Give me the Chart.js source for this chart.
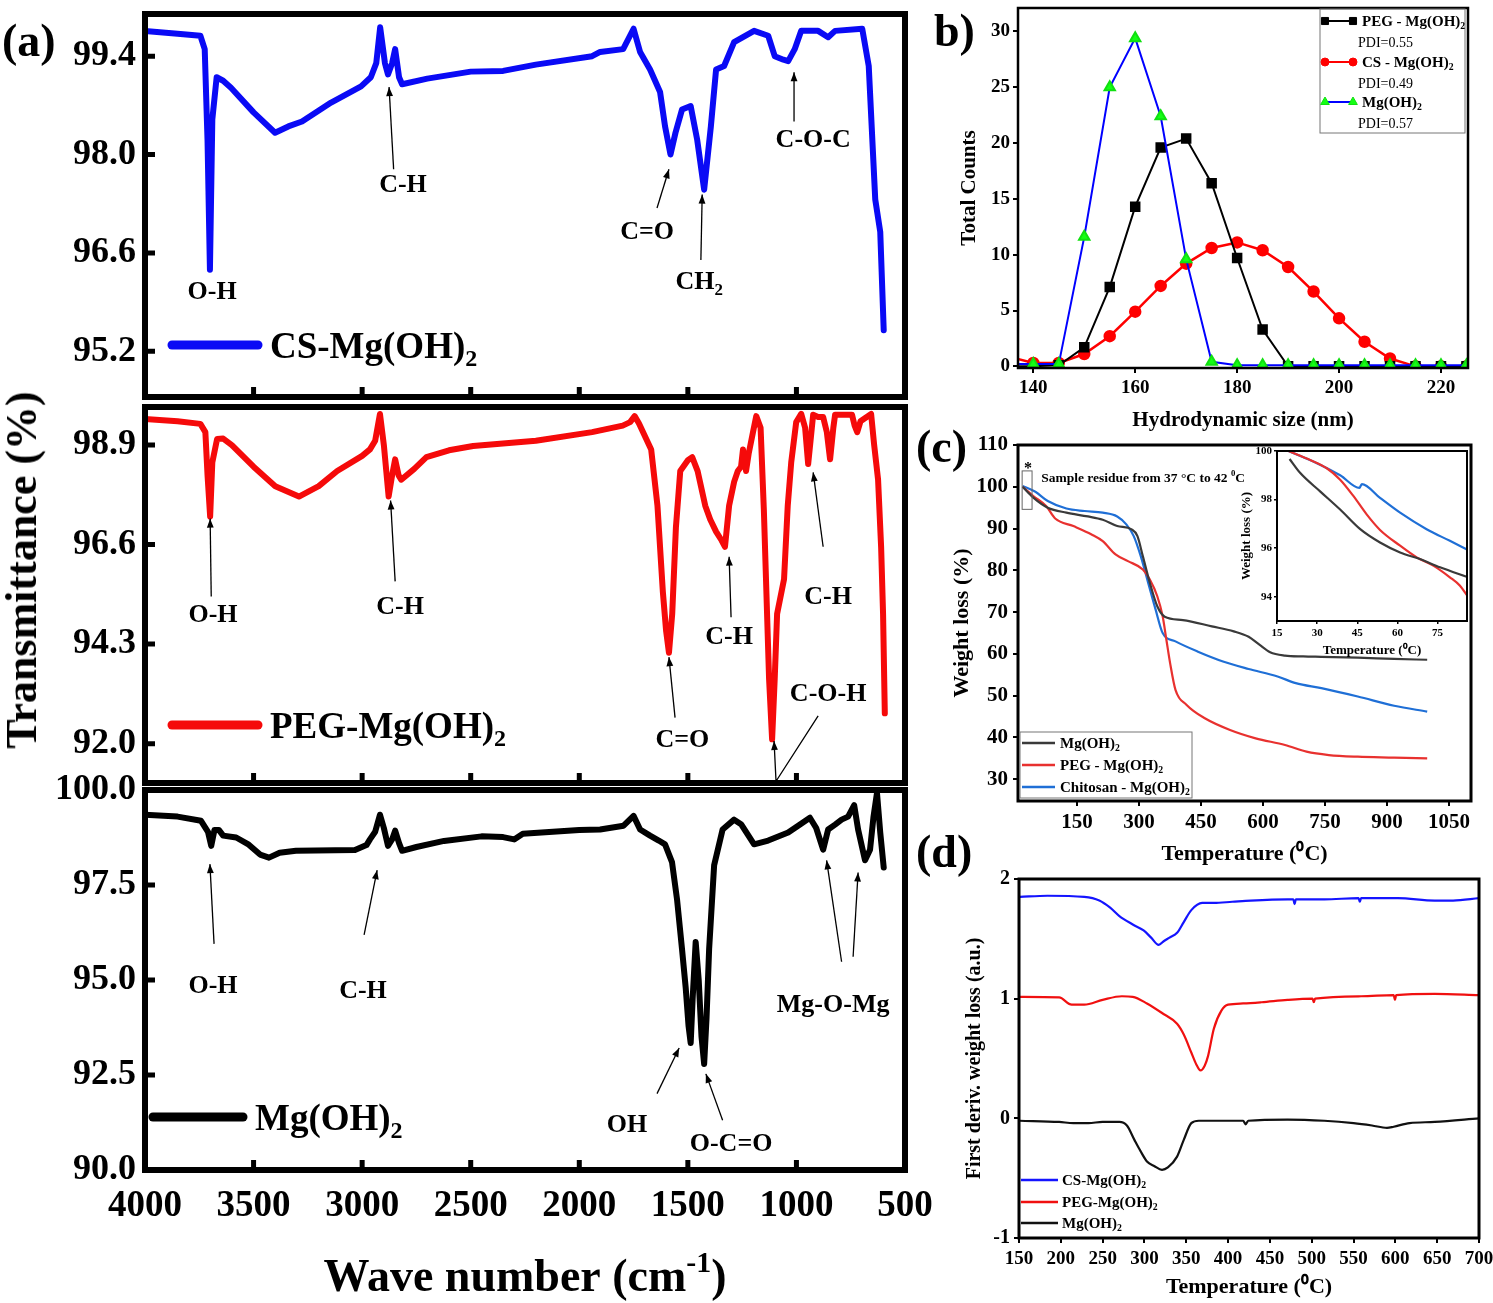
<!DOCTYPE html>
<html>
<head>
<meta charset="utf-8">
<script src="https://cdn.jsdelivr.net/npm/chart.js@4.4.1/dist/chart.umd.min.js"></script>
<style>
body { margin: 0; background: #fff; }
#wrap { position: relative; width: 1493px; height: 1303px; overflow: hidden; background: #fff;
        font-family: "Liberation Serif", "Times New Roman", serif; font-weight: bold; color: #000; }
canvas { position: absolute; }
.lab { position: absolute; line-height: 1; white-space: nowrap; }
</style>
</head>
<body>
<div id="wrap">
  <canvas id="a1" width="950" height="400" style="left:0;top:0"></canvas>
  <canvas id="a2" width="950" height="395" style="left:0;top:395px"></canvas>
  <canvas id="a3" width="950" height="543" style="left:0;top:760px"></canvas>
  <canvas id="b" width="573" height="433" style="left:920px;top:0"></canvas>
  <canvas id="c" width="573" height="440" style="left:920px;top:430px"></canvas>
  <canvas id="cin" width="255" height="225" style="left:1225px;top:440px"></canvas>
  <canvas id="d" width="573" height="433" style="left:920px;top:870px"></canvas>
  <div class="lab" style="left:2px;top:18px;font-size:46px">(a)</div>
  <div class="lab" style="left:934px;top:8px;font-size:46px">b)</div>
  <div class="lab" style="left:916px;top:424px;font-size:46px">(c)</div>
  <div class="lab" style="left:916px;top:829px;font-size:46px">(d)</div>
  <div class="lab" style="left:22px;top:570px;font-size:44px;transform:translate(-50%,-50%) rotate(-90deg)">Transmittance (%)</div>
</div>
<script>
// ---- (a) FTIR ----
const waveTicks = [4000, 3500, 3000, 2500, 2000, 1500, 1000, 500];
const csTicks = [95.2, 96.6, 98.0, 99.4];
const pegTicks = [92.0, 94.3, 96.6, 98.9];
const mgTicks = [90.0, 92.5, 95.0, 97.5, 100.0];

const csWave = [4000, 3850, 3745, 3725, 3712, 3701, 3690, 3670, 3640, 3604,
  3500, 3401, 3340, 3277, 3143, 3005, 2960, 2935, 2917, 2895,
  2881, 2862, 2848, 2830, 2816, 2700, 2500, 2351, 2200, 1941,
  1904, 1798, 1750, 1720, 1674, 1628, 1605, 1580, 1557, 1527,
  1487, 1457, 1425, 1394, 1370, 1333, 1287, 1195, 1130, 1100,
  1060, 1038, 1008, 978, 900, 854, 822, 697, 667, 637, 614, 598];
const csTrans = [99.76, 99.72, 99.69, 99.5, 98.2, 96.36, 98.5, 99.1, 99.05, 98.95,
  98.6, 98.31, 98.4, 98.47, 98.74, 98.97, 99.1, 99.3, 99.81, 99.3,
  99.14, 99.3, 99.5, 99.1, 99.0, 99.08, 99.18, 99.19, 99.28, 99.4,
  99.46, 99.5, 99.79, 99.46, 99.21, 98.89, 98.4, 98.0, 98.31, 98.64,
  98.69, 98.21, 97.5, 98.4, 99.21, 99.26, 99.6, 99.76, 99.69, 99.4,
  99.35, 99.33, 99.5, 99.76, 99.76, 99.67, 99.76, 99.79, 99.26, 97.36, 96.9, 95.5];

const pegWave = [4000, 3850, 3745, 3722, 3712, 3700, 3690, 3668, 3640, 3600,
  3500, 3400, 3291, 3200, 3115, 3000, 2964, 2940, 2918, 2900,
  2878, 2862, 2848, 2832, 2820, 2760, 2704, 2600, 2489, 2200,
  1941, 1800, 1766, 1745, 1725, 1669, 1640, 1615, 1600, 1587,
  1572, 1555, 1535, 1500, 1480, 1455, 1420, 1397, 1370, 1345,
  1329, 1310, 1287, 1270, 1255, 1246, 1232, 1220, 1200, 1185,
  1165, 1150, 1126, 1112, 1100, 1089, 1057, 1040, 1024, 1001,
  978, 960, 946, 935, 923, 900, 877, 860, 845, 830,
  822, 744, 732, 720, 705, 656, 642, 624, 610, 601, 593];
const pegTrans = [99.5, 99.45, 99.39, 99.2, 98.2, 97.25, 98.5, 99.04, 99.05, 98.9,
  98.4, 97.95, 97.71, 97.95, 98.3, 98.65, 98.8, 99.0, 99.62, 98.9,
  97.71, 98.2, 98.57, 98.2, 98.1, 98.35, 98.62, 98.78, 98.88, 99.0,
  99.2, 99.35, 99.43, 99.57, 99.4, 98.8, 97.5, 95.5, 94.6, 94.1,
  95.0, 97.0, 98.3, 98.55, 98.62, 98.3, 97.5, 97.18, 96.9, 96.7,
  96.55, 97.5, 98.05, 98.3, 98.4, 98.8, 98.3, 98.7, 99.2, 99.57,
  99.3, 97.4, 93.5, 92.1, 93.5, 95.0, 95.8, 97.5, 98.5, 99.43,
  99.62, 99.3, 98.46, 99.0, 99.6, 99.55, 99.55, 99.2, 98.57, 99.3,
  99.6, 99.6, 99.35, 99.2, 99.45, 99.62, 98.9, 98.1, 96.55, 95.0, 92.7];

const mgWave = [4000, 3850, 3742, 3710, 3695, 3680, 3660, 3640, 3580, 3522,
  3470, 3429, 3380, 3305, 3033, 2980, 2964, 2940, 2918, 2900,
  2881, 2862, 2848, 2830, 2816, 2750, 2623, 2450, 2351, 2300,
  2260, 2000, 1904, 1796, 1750, 1720, 1674, 1634, 1605, 1573,
  1550, 1527, 1510, 1497, 1487, 1478, 1464, 1450, 1437, 1425,
  1414, 1402, 1379, 1340, 1287, 1255, 1195, 1130, 1038, 992,
  938, 909, 877, 854, 822, 792, 762, 734, 716, 684,
  661, 645, 629, 614, 598];
const mgTrans = [99.35, 99.3, 99.19, 98.9, 98.53, 98.95, 98.95, 98.8, 98.75, 98.56,
  98.3, 98.22, 98.35, 98.4, 98.42, 98.55, 98.7, 98.9, 99.35, 99.0,
  98.53, 98.7, 98.93, 98.6, 98.4, 98.5, 98.66, 98.78, 98.76, 98.7,
  98.85, 98.95, 98.96, 99.06, 99.32, 98.96, 98.8, 98.67, 98.57, 98.1,
  97.13, 95.82, 94.8, 93.8, 93.34, 94.5, 96.0, 95.0, 93.5, 92.79,
  94.0, 95.82, 98.02, 98.96, 99.22, 99.1, 98.57, 98.67, 98.88, 99.06,
  99.27, 99.0, 98.43, 98.96, 99.09, 99.22, 99.3, 99.6, 98.96, 98.15,
  98.43, 99.3, 99.92, 98.88, 97.96];

// peak labels: text position and arrow paths in (wave number, transmittance)
const csNotes = [
  {text: 'O-H', x: 3691, y: 96.07},
  {text: 'C-H', x: 2812, y: 97.6, arrows: [[[2855, 97.79], [2876, 98.96]]]},
  {text: 'C=O', x: 1688, y: 96.93, arrows: [[[1642, 97.24], [1587, 97.79]]]},
  {text: 'CH_2', x: 1448, y: 96.21, arrows: [[[1440, 96.5], [1434, 97.43]]]},
  {text: 'C-O-C', x: 923, y: 98.24, arrows: [[[1011, 98.47], [1011, 99.17]]]}
];
const pegNotes = [
  {text: 'O-H', x: 3687, y: 95.02, arrows: [[[3695, 95.4], [3700, 97.2]]]},
  {text: 'C-H', x: 2825, y: 95.2, arrows: [[[2848, 95.75], [2869, 97.62]]]},
  {text: 'C=O', x: 1525, y: 92.13, arrows: [[[1559, 92.6], [1587, 94.0]]]},
  {text: 'C-H', x: 1310, y: 94.5, arrows: [[[1301, 94.92], [1310, 96.32]]]},
  {text: 'C-H', x: 854, y: 95.43, arrows: [[[877, 96.55], [923, 98.27]]]},
  {text: 'C-O-H', x: 854, y: 93.18, arrows: [[[900, 92.64], [1094, 91.13], [1103, 92.06]]]}
];
const mgNotes = [
  {text: 'O-H', x: 3687, y: 94.88, arrows: [[[3682, 95.95], [3701, 98.05]]]},
  {text: 'C-H', x: 2996, y: 94.75, arrows: [[[2991, 96.19], [2931, 97.89]]]},
  {text: 'OH', x: 1780, y: 91.23, arrows: [[[1642, 92.01], [1540, 93.21]]]},
  {text: 'O-C=O', x: 1301, y: 90.73, arrows: [[[1340, 91.31], [1417, 92.53]]]},
  {text: 'Mg-O-Mg', x: 831, y: 94.39, arrows: [[[792, 95.48], [861, 98.15]], [[739, 95.61], [716, 97.83]]]}
];

// ---- (b) DLS ----
const dlsSize = [135, 140, 145, 150, 155, 160, 165, 170, 175, 180, 185, 190, 195, 200, 205, 210, 215, 220, 225];
const dlsPeg = [0, 0, 0.1, 1.7, 7.1, 14.3, 19.6, 20.4, 16.4, 9.7, 3.3, 0, 0, 0, 0, 0, 0, 0, 0];
const dlsCs = [0.9, 0.3, 0.3, 1.1, 2.7, 4.9, 7.2, 9.2, 10.6, 11.1, 10.4, 8.9, 6.7, 4.3, 2.2, 0.7, 0, 0, 0];
const dlsMg = [0.2, 0.2, 0.2, 11.6, 25.0, 29.4, 22.4, 9.6, 0.4, 0.1, 0.1, 0.1, 0.1, 0.1, 0.1, 0.1, 0.1, 0.1, 0.1];
const dlsXTicks = [140, 160, 180, 200, 220];
const dlsYTicks = [0, 5, 10, 15, 20, 25, 30];

// ---- (c) TGA ----
const tgaMgT = [18, 44, 79, 124, 176, 212, 247, 282, 296, 309, 326, 344, 362, 406, 476, 529, 565, 591, 617, 653, 697, 741, 829, 917, 997];
const tgaMgW = [100, 97.4, 95.0, 93.8, 92.9, 92.1, 90.6, 89.8, 88.2, 83.4, 77.0, 71.4, 68.9, 68.1, 66.6, 65.4, 64.1, 62.2, 60.4, 59.6, 59.4, 59.3, 59.1, 58.8, 58.6];
const tgaPegT = [18, 44, 75, 97, 141, 185, 212, 243, 273, 309, 326, 344, 357, 366, 375, 388, 415, 459, 520, 582, 653, 705, 759, 829, 917, 997];
const tgaPegW = [100, 97.8, 95.4, 92.4, 90.6, 88.6, 87.0, 83.8, 82.2, 80.2, 77.8, 73.8, 69.0, 63.4, 57.8, 51.4, 47.8, 44.6, 41.8, 39.8, 38.2, 36.6, 35.8, 35.4, 35.2, 35.0];
const tgaCsT = [18, 49, 79, 124, 168, 212, 247, 269, 287, 304, 322, 340, 357, 388, 441, 503, 565, 635, 679, 741, 829, 917, 997];
const tgaCsW = [100.2, 98.8, 96.6, 94.8, 94.2, 93.8, 92.9, 91.0, 88.2, 83.4, 77.0, 70.6, 65.0, 63.0, 60.6, 58.2, 56.4, 54.6, 53.0, 51.8, 49.8, 47.6, 46.2];
const tgaXTicks = [150, 300, 450, 600, 750, 900, 1050];
const tgaYTicks = [30, 40, 50, 60, 70, 80, 90, 100, 110];

const inCsT = [19.3, 29.9, 38.6, 45.8, 46.7, 53.5, 61, 70.9, 79.6, 86.4];
const inCsW = [100, 99.5, 99.0, 98.48, 98.64, 98.07, 97.46, 96.78, 96.3, 95.92];
const inPegT = [19.3, 27.4, 33.6, 38.6, 43.6, 48.5, 53.5, 61, 67.2, 73.4, 79.6, 83.3, 86.4];
const inPegW = [100, 99.63, 99.29, 98.82, 98.14, 97.39, 96.75, 96.1, 95.62, 95.28, 94.8, 94.46, 93.99];
const inMgT = [19.7, 23.7, 31.1, 38.6, 46.1, 53.5, 61, 68.4, 75.9, 86.4];
const inMgW = [99.67, 99.09, 98.34, 97.59, 96.78, 96.23, 95.82, 95.55, 95.21, 94.8];
const inXTicks = [15, 30, 45, 60, 75];
const inYTicks = [94, 96, 98, 100];

// ---- (d) DTG ----
const dtgCsT = [151, 184, 228, 246, 259, 270, 286, 299, 308, 317, 323, 330, 339, 347, 356, 369, 383, 405, 427, 471, 478, 479.5, 481, 515, 556, 557.5, 559, 603, 647, 669, 700];
const dtgCsV = [1.85, 1.86, 1.85, 1.82, 1.76, 1.69, 1.62, 1.57, 1.51, 1.45, 1.48, 1.51, 1.55, 1.64, 1.74, 1.80, 1.80, 1.81, 1.82, 1.83, 1.83, 1.79, 1.83, 1.83, 1.84, 1.81, 1.84, 1.84, 1.82, 1.82, 1.84];
const dtgPegT = [151, 198, 213, 228, 250, 273, 286, 303, 321, 339, 347, 356, 362, 367, 372, 376, 383, 392, 400, 418, 440, 471, 501, 502.5, 504, 559, 598, 599.5, 601, 647, 700];
const dtgPegV = [1.015, 1.01, 0.95, 0.95, 0.99, 1.02, 1.015, 0.96, 0.88, 0.79, 0.70, 0.55, 0.45, 0.40, 0.44, 0.52, 0.75, 0.90, 0.95, 0.96, 0.97, 0.99, 1.0, 0.97, 1.0, 1.02, 1.03, 0.99, 1.03, 1.04, 1.03];
const dtgMgT = [151, 198, 215, 233, 250, 270, 279, 288, 295, 303, 312, 321, 328, 339, 347, 356, 365, 418, 421, 424, 471, 515, 550, 572, 590, 598, 617, 647, 700];
const dtgMgV = [-0.02, -0.03, -0.04, -0.04, -0.03, -0.03, -0.06, -0.18, -0.27, -0.36, -0.40, -0.43, -0.41, -0.32, -0.18, -0.04, -0.02, -0.02, -0.05, -0.02, -0.01, -0.02, -0.04, -0.06, -0.08, -0.07, -0.04, -0.03, 0.0];
const dtgXTicks = [150, 200, 250, 300, 350, 400, 450, 500, 550, 600, 650, 700];
const dtgYTicks = [-1, 0, 1, 2];

const FONT = '"Liberation Serif", "Times New Roman", serif';
Chart.defaults.font.family = FONT;
Chart.defaults.font.weight = 'bold';
Chart.defaults.color = '#000';

const pairs = (xs, ys) => xs.map((x, i) => ({x: x, y: ys[i]}));
const setTicks = arr => s => { s.ticks = arr.map(v => ({value: v})); };
const fixW = w => s => { s.width = w; s.paddingTop = 0; s.paddingBottom = 0; };
const fixH = h => s => { s.height = h; s.paddingLeft = 0; s.paddingRight = 0; };
const plain = v => String(v);

// text with _x subscripts and ^x superscripts, y is the vertical middle
function rich(ctx, str, x, y, size, weight, align) {
  const parts = [];
  let buf = '';
  for (let i = 0; i < str.length; i++) {
    const c = str[i];
    if (c === '_' || c === '^') {
      if (buf) { parts.push({t: buf, k: ''}); buf = ''; }
      let t;
      if (str[i + 1] === '{') { const j = str.indexOf('}', i); t = str.slice(i + 2, j); i = j; }
      else { t = str[i + 1]; i++; }
      parts.push({t: t, k: c});
    } else buf += c;
  }
  if (buf) parts.push({t: buf, k: ''});
  const f = s => weight + ' ' + s + 'px ' + FONT;
  let w = 0;
  parts.forEach(p => { ctx.font = f(p.k ? size * 0.65 : size); p.w = ctx.measureText(p.t).width; w += p.w; });
  let cx = align === 'center' ? x - w / 2 : (align === 'right' ? x - w : x);
  ctx.textAlign = 'left';
  ctx.textBaseline = 'alphabetic';
  const base = y + size * 0.34;
  parts.forEach(p => {
    ctx.font = f(p.k ? size * 0.65 : size);
    const dy = p.k === '_' ? size * 0.22 : (p.k === '^' ? -size * 0.4 : 0);
    ctx.fillText(p.t, cx, base + dy);
    cx += p.w;
  });
}

function arrow(ctx, pts, head, lw) {
  ctx.lineWidth = lw;
  ctx.beginPath();
  ctx.moveTo(pts[0][0], pts[0][1]);
  for (let i = 1; i < pts.length; i++) ctx.lineTo(pts[i][0], pts[i][1]);
  ctx.stroke();
  const p1 = pts[pts.length - 2], p2 = pts[pts.length - 1];
  const a = Math.atan2(p2[1] - p1[1], p2[0] - p1[0]);
  const bx = p2[0] - head * Math.cos(a), by = p2[1] - head * Math.sin(a);
  const hw = head * 0.38;
  ctx.beginPath();
  ctx.moveTo(p2[0], p2[1]);
  ctx.lineTo(bx + hw * Math.sin(a), by - hw * Math.cos(a));
  ctx.lineTo(bx - hw * Math.sin(a), by + hw * Math.cos(a));
  ctx.closePath();
  ctx.fill();
}

function marker(ctx, style, x, y, r, fill, stroke) {
  ctx.fillStyle = fill; ctx.strokeStyle = stroke; ctx.lineWidth = 1;
  ctx.beginPath();
  if (style === 'rect') { const s = r * Math.SQRT1_2; ctx.rect(x - s, y - s, 2 * s, 2 * s); }
  else if (style === 'circle') ctx.arc(x, y, r, 0, Math.PI * 2);
  else { ctx.moveTo(x, y - r); ctx.lineTo(x + r * 0.87, y + r * 0.5); ctx.lineTo(x - r * 0.87, y + r * 0.5); ctx.closePath(); }
  ctx.fill(); ctx.stroke();
}

// frame, inner ticks, peak labels and hand-placed legends
function deco(cfg) {
  return {
    id: 'deco',
    afterDraw(chart) {
      const ctx = chart.ctx, a = chart.chartArea, sx = chart.scales.x, sy = chart.scales.y;
      const X = v => sx.getPixelForValue(v), Y = v => sy.getPixelForValue(v);
      ctx.save();
      ctx.strokeStyle = '#000'; ctx.fillStyle = '#000';
      if (cfg.inner) {
        ctx.lineWidth = cfg.inner.w;
        ctx.lineCap = 'butt';
        ctx.beginPath();
        cfg.inner.x.forEach(v => { ctx.moveTo(X(v), a.bottom); ctx.lineTo(X(v), a.bottom - cfg.inner.len); });
        cfg.inner.y.forEach(v => { ctx.moveTo(a.left, Y(v)); ctx.lineTo(a.left + cfg.inner.len, Y(v)); });
        ctx.stroke();
      }
      ctx.lineWidth = cfg.frame;
      ctx.strokeRect(a.left, a.top, a.right - a.left, a.bottom - a.top);
      (cfg.notes || []).forEach(n => {
        (n.arrows || []).forEach(p => arrow(ctx, p.map(q => [X(q[0]), Y(q[1])]), 9, 1.3));
        rich(ctx, n.text, X(n.x), Y(n.y), cfg.noteSize, 'bold', 'center');
      });
      if (cfg.draw) cfg.draw(ctx, a, X, Y);
      ctx.restore();
    }
  };
}

function baseOptions(pad, scales) {
  return {
    responsive: false, animation: false, events: [],
    layout: {padding: pad},
    plugins: {legend: {display: false}, tooltip: {enabled: false}},
    scales: scales
  };
}

function ftir(id, wave, trans, color, yTicks, yMin, yMax, padTop, xH, showX, notes, leg) {
  new Chart(document.getElementById(id), {
    type: 'line',
    data: {datasets: [{data: pairs(wave, trans), borderColor: color, borderWidth: 6, pointRadius: 0,
      tension: 0, borderJoinStyle: 'round', borderCapStyle: 'round'}]},
    options: baseOptions({top: padTop, right: 45, left: 0, bottom: 0}, {
      x: {type: 'linear', reverse: true, min: 500, max: 4000,
        grid: {display: false, drawTicks: false}, border: {display: false},
        ticks: {display: showX, autoSkip: false, maxRotation: 0, padding: 14, font: {size: 37, weight: 'bold'}, callback: plain},
        afterBuildTicks: setTicks(waveTicks), afterFit: fixH(xH)},
      y: {min: yMin, max: yMax,
        grid: {display: false, drawTicks: false}, border: {display: false},
        ticks: {padding: 9, font: {size: 36, weight: 'bold'}, callback: v => v.toFixed(1)},
        afterBuildTicks: setTicks(yTicks), afterFit: fixW(145)}
    }),
    plugins: [deco({
      frame: 6, noteSize: 26, notes: notes,
      inner: {x: waveTicks.slice(1, -1), y: yTicks, len: 10, w: 5},
      draw: (ctx, a) => {
        ctx.strokeStyle = color; ctx.lineWidth = 9; ctx.lineCap = 'round';
        ctx.beginPath(); ctx.moveTo(a.left + leg.x1, a.top + leg.y); ctx.lineTo(a.left + leg.x2, a.top + leg.y); ctx.stroke();
        ctx.fillStyle = '#000';
        rich(ctx, leg.text, a.left + leg.tx, a.top + leg.y, 37, 'bold', 'left');
        if (leg.title) rich(ctx, leg.title, (a.left + a.right) / 2, a.bottom + 105, 46, 'bold', 'center');
      }
    })]
  });
}

ftir('a1', csWave, csTrans, '#0a0af5', csTicks, 94.55, 100.0, 14, 3, false, csNotes,
  {x1: 27, x2: 113, y: 331, tx: 125, text: 'CS-Mg(OH)_2'});
ftir('a2', pegWave, pegTrans, '#f50a0a', pegTicks, 91.09, 99.78, 12, 7, false, pegNotes,
  {x1: 27, x2: 113, y: 318, tx: 125, text: 'PEG-Mg(OH)_2'});
ftir('a3', mgWave, mgTrans, '#000', mgTicks, 90.0, 100.0, 30, 133, true, mgNotes,
  {x1: 8, x2: 98, y: 327, tx: 110, text: 'Mg(OH)_2', title: 'Wave number (cm^{-1})'});

// ---- (b) ----
const outGrid = (lw, len) => ({drawOnChartArea: false, drawTicks: true, tickLength: len, color: '#000', lineWidth: lw});
new Chart(document.getElementById('b'), {
  type: 'line',
  data: {datasets: [
    {data: pairs(dlsSize, dlsMg), borderColor: '#0000ff', borderWidth: 2, tension: 0,
      pointStyle: 'triangle', pointRadius: 6, pointBackgroundColor: '#14ff14', pointBorderColor: '#10e010'},
    {data: pairs(dlsSize, dlsPeg), borderColor: '#000', borderWidth: 2, tension: 0,
      pointStyle: 'rect', pointRadius: c => (c.dataIndex < 2 ? 0 : 6), pointBackgroundColor: '#000', pointBorderColor: '#000'},
    {data: pairs(dlsSize, dlsCs), borderColor: '#ff0000', borderWidth: 2.5, tension: 0,
      pointStyle: 'circle', pointRadius: c => (c.dataIndex === 0 ? 0 : 5), pointBackgroundColor: '#ff0000', pointBorderColor: '#ff0000'}
  ]},
  options: baseOptions({top: 4, right: 25, left: 0, bottom: 0}, {
    x: {type: 'linear', min: 137, max: 225.3, grid: outGrid(2, 5), border: {display: false},
      ticks: {padding: 4, maxRotation: 0, autoSkip: false, font: {size: 19, weight: 'bold'}, callback: plain},
      title: {display: true, text: 'Hydrodynamic size (nm)', font: {size: 21, weight: 'bold'}, padding: {top: 0, bottom: 0}},
      afterBuildTicks: setTicks(dlsXTicks), afterFit: fixH(65)},
    y: {min: -0.15, max: 32.1, grid: outGrid(2, 5), border: {display: false},
      ticks: {padding: 3, font: {size: 19, weight: 'bold'}, callback: plain},
      title: {display: true, text: 'Total Counts', font: {size: 21, weight: 'bold'}, padding: {top: 37, bottom: 0}},
      afterBuildTicks: setTicks(dlsYTicks), afterFit: fixW(98)}
  }),
  plugins: [deco({
    frame: 2.5,
    draw: (ctx, a) => {
      const bx = a.right - 148, by = a.top + 1;
      ctx.strokeStyle = '#777'; ctx.lineWidth = 1;
      ctx.strokeRect(bx, by, 145, 124);
      const rows = [
        {c: '#000', st: 'rect', r: 6, f: '#000', s: '#000', t: 'PEG - Mg(OH)_2', p: 'PDI=0.55', y: 12},
        {c: '#ff0000', st: 'circle', r: 5, f: '#ff0000', s: '#ff0000', t: 'CS - Mg(OH)_2', p: 'PDI=0.49', y: 53},
        {c: '#0000ff', st: 'tri', r: 6, f: '#14ff14', s: '#10e010', t: 'Mg(OH)_2', p: 'PDI=0.57', y: 93}
      ];
      rows.forEach(r => {
        const y = by + r.y;
        ctx.strokeStyle = r.c; ctx.lineWidth = 2;
        ctx.beginPath(); ctx.moveTo(bx + 4, y); ctx.lineTo(bx + 34, y); ctx.stroke();
        marker(ctx, r.st, bx + 5, y, r.r - 1, r.f, r.s);
        marker(ctx, r.st, bx + 33, y, r.r - 1, r.f, r.s);
        ctx.fillStyle = '#000';
        rich(ctx, r.t, bx + 42, y, 15, 'bold', 'left');
        rich(ctx, r.p, bx + 38, y + 21, 14, 'normal', 'left');
      });
    }
  })]
});

// ---- (c) ----
const tgaLine = (xs, ys, color) => ({data: pairs(xs, ys), borderColor: color, borderWidth: 2.2, pointRadius: 0,
  cubicInterpolationMode: 'monotone'});
new Chart(document.getElementById('c'), {
  type: 'line',
  data: {datasets: [
    tgaLine(tgaMgT, tgaMgW, '#3a3a3a'),
    tgaLine(tgaPegT, tgaPegW, '#e8312f'),
    tgaLine(tgaCsT, tgaCsW, '#1f6fd6')
  ]},
  options: baseOptions({top: 15, right: 22, left: 0, bottom: 0}, {
    x: {type: 'linear', min: 7, max: 1103, grid: outGrid(2, 5), border: {display: false},
      ticks: {padding: 4, maxRotation: 0, autoSkip: false, font: {size: 21, weight: 'bold'}, callback: plain},
      title: {display: true, text: 'Temperature (\u2070C)', font: {size: 22, weight: 'bold'}, padding: {top: 0, bottom: 2}},
      afterBuildTicks: setTicks(tgaXTicks), afterFit: fixH(69)},
    y: {min: 24.8, max: 110, grid: outGrid(2, 5), border: {display: false},
      ticks: {padding: 5, font: {size: 21, weight: 'bold'}, callback: plain},
      title: {display: true, text: 'Weight loss (%)', font: {size: 22, weight: 'bold'}, padding: {top: 29, bottom: 0}},
      afterBuildTicks: setTicks(tgaYTicks), afterFit: fixW(98)}
  }),
  plugins: [deco({
    frame: 3,
    draw: (ctx, a, X, Y) => {
      ctx.strokeStyle = '#666'; ctx.lineWidth = 1;
      ctx.strokeRect(X(17), Y(103.8), X(41) - X(17), Y(94.6) - Y(103.8));
      ctx.fillStyle = '#000';
      rich(ctx, '*', X(31), Y(104.6), 16, 'bold', 'center');
      rich(ctx, 'Sample residue from 37 \u00b0C to 42 ^0C', X(63), Y(102.3), 13.5, 'bold', 'left');
      ctx.strokeStyle = '#777';
      ctx.strokeRect(a.left + 2, a.bottom - 69, 172, 66);
      const rows = [['#3a3a3a', 'Mg(OH)_2', 11], ['#e8312f', 'PEG - Mg(OH)_2', 33], ['#1f6fd6', 'Chitosan - Mg(OH)_2', 55]];
      rows.forEach(r => {
        const y = a.bottom - 69 + r[2];
        ctx.strokeStyle = r[0]; ctx.lineWidth = 2.5;
        ctx.beginPath(); ctx.moveTo(a.left + 4, y); ctx.lineTo(a.left + 37, y); ctx.stroke();
        ctx.fillStyle = '#000';
        rich(ctx, r[1], a.left + 42, y, 15, 'bold', 'left');
      });
    }
  })]
});

new Chart(document.getElementById('cin'), {
  type: 'line',
  data: {datasets: [
    tgaLine(inMgT, inMgW, '#3a3a3a'),
    tgaLine(inPegT, inPegW, '#e8312f'),
    tgaLine(inCsT, inCsW, '#1f6fd6')
  ]},
  options: baseOptions({top: 11, right: 13, left: 0, bottom: 0}, {
    x: {type: 'linear', min: 15, max: 86, grid: outGrid(1.5, 3), border: {display: false},
      ticks: {padding: 3, maxRotation: 0, autoSkip: false, font: {size: 11, weight: 'bold'}, callback: plain},
      title: {display: true, text: 'Temperature (\u2070C)', font: {size: 13, weight: 'bold'}, padding: {top: 0, bottom: 7}},
      afterBuildTicks: setTicks(inXTicks), afterFit: fixH(44)},
    y: {min: 93, max: 100, grid: outGrid(1.5, 3), border: {display: false},
      ticks: {padding: 2, font: {size: 11, weight: 'bold'}, callback: plain},
      title: {display: true, text: 'Weight loss (%)', font: {size: 13, weight: 'bold'}, padding: {top: 14, bottom: 0}},
      afterBuildTicks: setTicks(inYTicks), afterFit: fixW(52)}
  }),
  plugins: [deco({frame: 2})]
});

// ---- (d) ----
new Chart(document.getElementById('d'), {
  type: 'line',
  data: {datasets: [
    tgaLine(dtgCsT, dtgCsV, '#1414ff'),
    tgaLine(dtgPegT, dtgPegV, '#f01010'),
    tgaLine(dtgMgT, dtgMgV, '#111')
  ]},
  options: baseOptions({top: 9, right: 14, left: 0, bottom: 0}, {
    x: {type: 'linear', min: 150, max: 700, grid: outGrid(2, 5), border: {display: false},
      ticks: {padding: 5, maxRotation: 0, autoSkip: false, font: {size: 19, weight: 'bold'}, callback: plain},
      title: {display: true, text: 'Temperature (\u2070C)', font: {size: 22, weight: 'bold'}, padding: {top: 0, bottom: 2}},
      afterBuildTicks: setTicks(dtgXTicks), afterFit: fixH(65)},
    y: {min: -1, max: 2, grid: outGrid(2, 5), border: {display: false},
      ticks: {padding: 4, font: {size: 20, weight: 'bold'}, callback: plain},
      title: {display: true, text: 'First deriv. weight loss (a.u.)', font: {size: 20, weight: 'bold'}, padding: {top: 43, bottom: 0}},
      afterBuildTicks: setTicks(dtgYTicks), afterFit: fixW(99)}
  }),
  plugins: [deco({
    frame: 3,
    draw: (ctx, a) => {
      const rows = [['#1414ff', 'CS-Mg(OH)_2', 58], ['#f01010', 'PEG-Mg(OH)_2', 36], ['#111', 'Mg(OH)_2', 15]];
      rows.forEach(r => {
        const y = a.bottom - r[2];
        ctx.strokeStyle = r[0]; ctx.lineWidth = 2.5;
        ctx.beginPath(); ctx.moveTo(a.left + 2, y); ctx.lineTo(a.left + 39, y); ctx.stroke();
        ctx.fillStyle = '#000';
        rich(ctx, r[1], a.left + 43, y, 15, 'bold', 'left');
      });
    }
  })]
});
</script>
</body>
</html>
